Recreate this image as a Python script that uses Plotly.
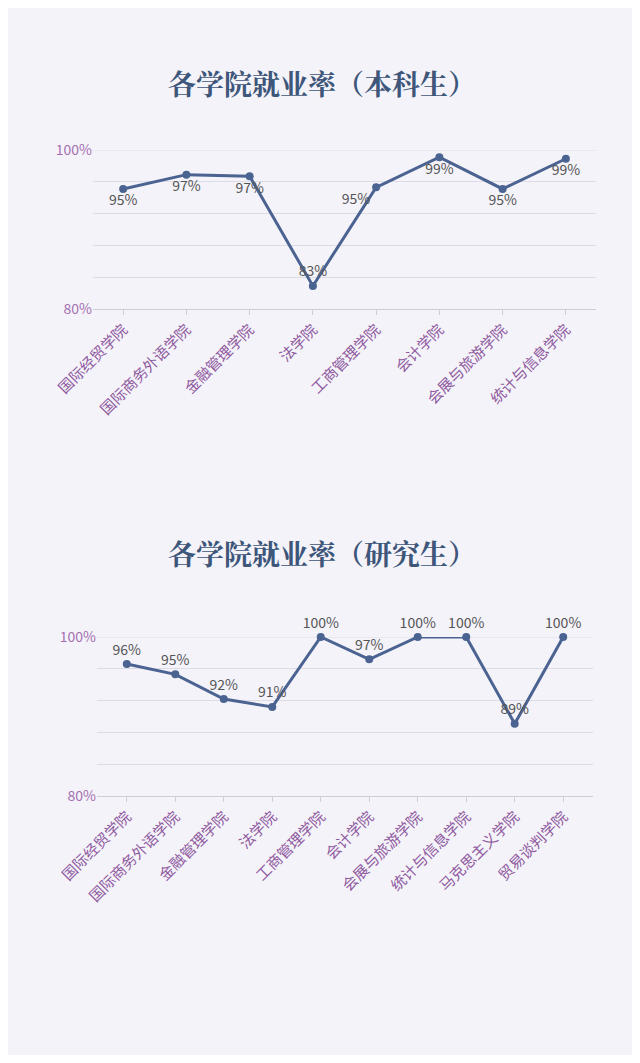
import plotly.graph_objects as go

cats1 = ["国际经贸学院","国际商务外语学院","金融管理学院","法学院","工商管理学院","会计学院","会展与旅游学院","统计与信息学院"]
vals1 = [95.1, 96.9, 96.7, 82.9, 95.3, 99.1, 95.1, 98.9]
labs1 = ["95%","97%","97%","83%","95%","99%","95%","99%"]
pos1 = ["bottom center","bottom center","bottom center","top center","bottom left","bottom center","bottom center","bottom center"]

cats2 = ["国际经贸学院","国际商务外语学院","金融管理学院","法学院","工商管理学院","会计学院","会展与旅游学院","统计与信息学院","马克思主义学院","贸易谈判学院"]
vals2 = [96.6, 95.3, 92.2, 91.2, 100, 97.2, 100, 100, 89.1, 100]
labs2 = ["96%","95%","92%","91%","100%","97%","100%","100%","89%","100%"]

W, Hh, OFF = 624, 1047, 8
line_c = "#4b6391"
fig = go.Figure()
fig.add_trace(go.Scatter(x=cats1, y=vals1, text=labs1, mode="lines+markers+text", textposition=pos1,
    line=dict(color=line_c, width=3), marker=dict(size=8, color=line_c),
    textfont=dict(size=14, color="#555"), xaxis="x", yaxis="y", cliponaxis=False))
fig.add_trace(go.Scatter(x=cats2, y=vals2, text=labs2, mode="lines+markers+text", textposition="top center",
    line=dict(color=line_c, width=3), marker=dict(size=8, color=line_c),
    textfont=dict(size=14, color="#555"), xaxis="x2", yaxis="y2", cliponaxis=False))

def H(px): return 1 - (px - OFF)/Hh
def X(px): return (px - OFF)/W
yax = dict(range=[80, 100], tickvals=[80,84,88,92,96,100], ticktext=["80%","","","","","100%"],
           showgrid=True, gridcolor="#dddbe6", zeroline=False, tickfont=dict(size=14, color="#a66fb0"),
           ticks="", showline=False, automargin=False)
xax = dict(tickangle=-45, tickfont=dict(size=15, color="#8f5a9e", family="Noto Sans CJK SC"),
           showline=True, linecolor="#cfcdd8", ticks="outside", tickcolor="#cfcdd8", showgrid=False,
           automargin=False)
fig.update_layout(
    width=W, height=Hh, paper_bgcolor="#f4f3fa", plot_bgcolor="#f4f3fa",
    margin=dict(l=0, r=0, t=0, b=0), showlegend=False,
    font=dict(family="Noto Sans CJK SC"),
    xaxis=dict(xax, domain=[X(93), X(596)], anchor="y"),
    yaxis=dict(yax, domain=[H(309), H(150)], anchor="x"),
    xaxis2=dict(xax, domain=[X(97), X(593)], anchor="y2"),
    yaxis2=dict(yax, domain=[H(796), H(637)], anchor="x2"),
    shapes=[
        dict(type="line", xref="x domain", yref="y", x0=0, x1=1, y0=100, y1=100, line=dict(color="#dddbe6", width=1), layer="below"),
        dict(type="line", xref="x2 domain", yref="y2", x0=0, x1=1, y0=100, y1=100, line=dict(color="#dddbe6", width=1), layer="below"),
    ],
    annotations=[
        dict(text="<b>各学院就业率（本科生）</b>", x=X(322), y=H(83), xref="paper", yref="paper", showarrow=False,
             yanchor="middle", font=dict(size=28, color="#3d5679", family="Noto Serif CJK SC, Noto Sans CJK SC")),
        dict(text="<b>各学院就业率（研究生）</b>", x=X(322), y=H(553), xref="paper", yref="paper", showarrow=False,
             yanchor="middle", font=dict(size=28, color="#3d5679", family="Noto Serif CJK SC, Noto Sans CJK SC")),
    ])
fig.write_html("out.html")
